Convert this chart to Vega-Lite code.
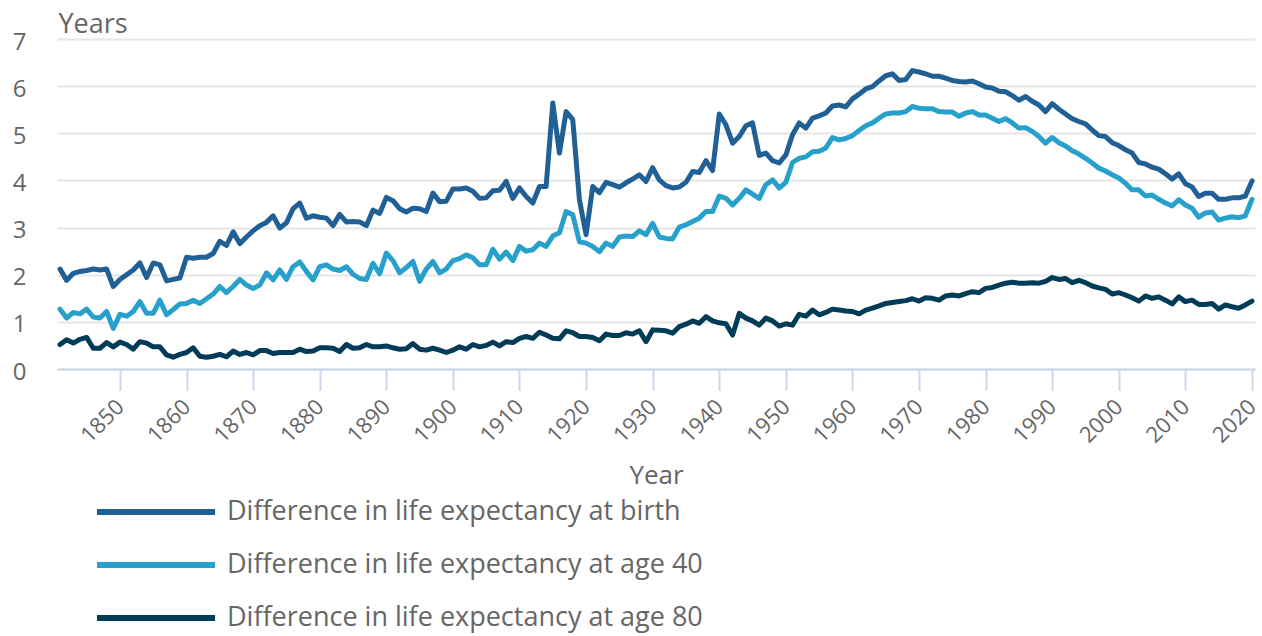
{
  "$schema": "https://vega.github.io/schema/vega-lite/v6.json",
  "width": 1198,
  "height": 330,
  "autosize": {"type": "none"},
  "padding": {"left": 57, "top": 39, "right": 7, "bottom": 267},
  "background": "white",
  "config": {"font": "Open Sans", "view": {"stroke": null}},
  "data": {"values": [
    {"year":1841,"b":2.12,"a40":1.27,"a80":0.52},
    {"year":1842,"b":1.88,"a40":1.08,"a80":0.62},
    {"year":1843,"b":2.03,"a40":1.2,"a80":0.55},
    {"year":1844,"b":2.07,"a40":1.17,"a80":0.63},
    {"year":1845,"b":2.09,"a40":1.27,"a80":0.67},
    {"year":1846,"b":2.12,"a40":1.1,"a80":0.44},
    {"year":1847,"b":2.1,"a40":1.08,"a80":0.44},
    {"year":1848,"b":2.12,"a40":1.22,"a80":0.56},
    {"year":1849,"b":1.75,"a40":0.86,"a80":0.47},
    {"year":1850,"b":1.9,"a40":1.16,"a80":0.57},
    {"year":1851,"b":2.0,"a40":1.12,"a80":0.52},
    {"year":1852,"b":2.1,"a40":1.22,"a80":0.42},
    {"year":1853,"b":2.25,"a40":1.43,"a80":0.58},
    {"year":1854,"b":1.94,"a40":1.18,"a80":0.55},
    {"year":1855,"b":2.25,"a40":1.18,"a80":0.47},
    {"year":1856,"b":2.21,"a40":1.46,"a80":0.47},
    {"year":1857,"b":1.87,"a40":1.15,"a80":0.3},
    {"year":1858,"b":1.9,"a40":1.26,"a80":0.25},
    {"year":1859,"b":1.93,"a40":1.38,"a80":0.31},
    {"year":1860,"b":2.37,"a40":1.39,"a80":0.35},
    {"year":1861,"b":2.35,"a40":1.46,"a80":0.45},
    {"year":1862,"b":2.37,"a40":1.39,"a80":0.27},
    {"year":1863,"b":2.37,"a40":1.49,"a80":0.25},
    {"year":1864,"b":2.45,"a40":1.59,"a80":0.27},
    {"year":1865,"b":2.71,"a40":1.75,"a80":0.31},
    {"year":1866,"b":2.62,"a40":1.62,"a80":0.26},
    {"year":1867,"b":2.91,"a40":1.75,"a80":0.38},
    {"year":1868,"b":2.66,"a40":1.9,"a80":0.31},
    {"year":1869,"b":2.8,"a40":1.78,"a80":0.35},
    {"year":1870,"b":2.93,"a40":1.71,"a80":0.3},
    {"year":1871,"b":3.04,"a40":1.78,"a80":0.39},
    {"year":1872,"b":3.11,"a40":2.04,"a80":0.39},
    {"year":1873,"b":3.25,"a40":1.89,"a80":0.33},
    {"year":1874,"b":2.99,"a40":2.1,"a80":0.35},
    {"year":1875,"b":3.1,"a40":1.9,"a80":0.35},
    {"year":1876,"b":3.4,"a40":2.17,"a80":0.35},
    {"year":1877,"b":3.52,"a40":2.27,"a80":0.42},
    {"year":1878,"b":3.2,"a40":2.07,"a80":0.37},
    {"year":1879,"b":3.25,"a40":1.89,"a80":0.38},
    {"year":1880,"b":3.22,"a40":2.17,"a80":0.45},
    {"year":1881,"b":3.2,"a40":2.21,"a80":0.45},
    {"year":1882,"b":3.04,"a40":2.12,"a80":0.44},
    {"year":1883,"b":3.28,"a40":2.09,"a80":0.37},
    {"year":1884,"b":3.12,"a40":2.17,"a80":0.52},
    {"year":1885,"b":3.13,"a40":2.01,"a80":0.44},
    {"year":1886,"b":3.12,"a40":1.92,"a80":0.45},
    {"year":1887,"b":3.04,"a40":1.9,"a80":0.52},
    {"year":1888,"b":3.37,"a40":2.24,"a80":0.47},
    {"year":1889,"b":3.3,"a40":2.02,"a80":0.47},
    {"year":1890,"b":3.64,"a40":2.46,"a80":0.49},
    {"year":1891,"b":3.57,"a40":2.3,"a80":0.45},
    {"year":1892,"b":3.4,"a40":2.04,"a80":0.42},
    {"year":1893,"b":3.33,"a40":2.15,"a80":0.43},
    {"year":1894,"b":3.41,"a40":2.28,"a80":0.54},
    {"year":1895,"b":3.4,"a40":1.86,"a80":0.42},
    {"year":1896,"b":3.34,"a40":2.12,"a80":0.4},
    {"year":1897,"b":3.73,"a40":2.28,"a80":0.44},
    {"year":1898,"b":3.55,"a40":2.04,"a80":0.4},
    {"year":1899,"b":3.56,"a40":2.12,"a80":0.35},
    {"year":1900,"b":3.82,"a40":2.3,"a80":0.4},
    {"year":1901,"b":3.82,"a40":2.34,"a80":0.47},
    {"year":1902,"b":3.84,"a40":2.42,"a80":0.42},
    {"year":1903,"b":3.77,"a40":2.36,"a80":0.52},
    {"year":1904,"b":3.62,"a40":2.21,"a80":0.47},
    {"year":1905,"b":3.63,"a40":2.21,"a80":0.5},
    {"year":1906,"b":3.78,"a40":2.54,"a80":0.57},
    {"year":1907,"b":3.79,"a40":2.33,"a80":0.49},
    {"year":1908,"b":3.98,"a40":2.48,"a80":0.58},
    {"year":1909,"b":3.62,"a40":2.3,"a80":0.56},
    {"year":1910,"b":3.84,"a40":2.6,"a80":0.65},
    {"year":1911,"b":3.66,"a40":2.5,"a80":0.69},
    {"year":1912,"b":3.52,"a40":2.53,"a80":0.65},
    {"year":1913,"b":3.87,"a40":2.67,"a80":0.78},
    {"year":1914,"b":3.87,"a40":2.6,"a80":0.72},
    {"year":1915,"b":5.64,"a40":2.82,"a80":0.65},
    {"year":1916,"b":4.58,"a40":2.89,"a80":0.64},
    {"year":1917,"b":5.46,"a40":3.34,"a80":0.81},
    {"year":1918,"b":5.29,"a40":3.27,"a80":0.77},
    {"year":1919,"b":3.59,"a40":2.7,"a80":0.69},
    {"year":1920,"b":2.85,"a40":2.67,"a80":0.69},
    {"year":1921,"b":3.87,"a40":2.6,"a80":0.67},
    {"year":1922,"b":3.74,"a40":2.49,"a80":0.6},
    {"year":1923,"b":3.96,"a40":2.67,"a80":0.74},
    {"year":1924,"b":3.91,"a40":2.6,"a80":0.71},
    {"year":1925,"b":3.86,"a40":2.8,"a80":0.71},
    {"year":1926,"b":3.95,"a40":2.82,"a80":0.77},
    {"year":1927,"b":4.03,"a40":2.81,"a80":0.74},
    {"year":1928,"b":4.12,"a40":2.93,"a80":0.81},
    {"year":1929,"b":3.98,"a40":2.85,"a80":0.58},
    {"year":1930,"b":4.27,"a40":3.09,"a80":0.83},
    {"year":1931,"b":4.01,"a40":2.8,"a80":0.82},
    {"year":1932,"b":3.89,"a40":2.77,"a80":0.81},
    {"year":1933,"b":3.84,"a40":2.76,"a80":0.76},
    {"year":1934,"b":3.86,"a40":3.01,"a80":0.9},
    {"year":1935,"b":3.96,"a40":3.06,"a80":0.95},
    {"year":1936,"b":4.19,"a40":3.13,"a80":1.02},
    {"year":1937,"b":4.17,"a40":3.2,"a80":0.97},
    {"year":1938,"b":4.42,"a40":3.34,"a80":1.11},
    {"year":1939,"b":4.21,"a40":3.34,"a80":1.02},
    {"year":1940,"b":5.41,"a40":3.67,"a80":0.98},
    {"year":1941,"b":5.18,"a40":3.62,"a80":0.96},
    {"year":1942,"b":4.79,"a40":3.48,"a80":0.72},
    {"year":1943,"b":4.93,"a40":3.62,"a80":1.18},
    {"year":1944,"b":5.16,"a40":3.8,"a80":1.08},
    {"year":1945,"b":5.22,"a40":3.71,"a80":1.02},
    {"year":1946,"b":4.53,"a40":3.62,"a80":0.93},
    {"year":1947,"b":4.58,"a40":3.91,"a80":1.08},
    {"year":1948,"b":4.42,"a40":4.01,"a80":1.02},
    {"year":1949,"b":4.37,"a40":3.84,"a80":0.91},
    {"year":1950,"b":4.54,"a40":3.96,"a80":0.96},
    {"year":1951,"b":4.97,"a40":4.38,"a80":0.93},
    {"year":1952,"b":5.22,"a40":4.47,"a80":1.16},
    {"year":1953,"b":5.11,"a40":4.5,"a80":1.12},
    {"year":1954,"b":5.32,"a40":4.61,"a80":1.25},
    {"year":1955,"b":5.37,"a40":4.62,"a80":1.15},
    {"year":1956,"b":5.43,"a40":4.69,"a80":1.2},
    {"year":1957,"b":5.58,"a40":4.91,"a80":1.27},
    {"year":1958,"b":5.6,"a40":4.86,"a80":1.25},
    {"year":1959,"b":5.56,"a40":4.89,"a80":1.23},
    {"year":1960,"b":5.73,"a40":4.95,"a80":1.22},
    {"year":1961,"b":5.83,"a40":5.06,"a80":1.17},
    {"year":1962,"b":5.94,"a40":5.16,"a80":1.25},
    {"year":1963,"b":5.99,"a40":5.22,"a80":1.29},
    {"year":1964,"b":6.11,"a40":5.32,"a80":1.34},
    {"year":1965,"b":6.22,"a40":5.41,"a80":1.39},
    {"year":1966,"b":6.26,"a40":5.43,"a80":1.41},
    {"year":1967,"b":6.12,"a40":5.43,"a80":1.43},
    {"year":1968,"b":6.14,"a40":5.46,"a80":1.45},
    {"year":1969,"b":6.33,"a40":5.57,"a80":1.49},
    {"year":1970,"b":6.3,"a40":5.53,"a80":1.44},
    {"year":1971,"b":6.26,"a40":5.52,"a80":1.51},
    {"year":1972,"b":6.21,"a40":5.52,"a80":1.5},
    {"year":1973,"b":6.21,"a40":5.46,"a80":1.46},
    {"year":1974,"b":6.17,"a40":5.45,"a80":1.55},
    {"year":1975,"b":6.12,"a40":5.45,"a80":1.57},
    {"year":1976,"b":6.1,"a40":5.36,"a80":1.55},
    {"year":1977,"b":6.09,"a40":5.43,"a80":1.6},
    {"year":1978,"b":6.11,"a40":5.46,"a80":1.64},
    {"year":1979,"b":6.05,"a40":5.39,"a80":1.62},
    {"year":1980,"b":5.98,"a40":5.39,"a80":1.71},
    {"year":1981,"b":5.96,"a40":5.32,"a80":1.73},
    {"year":1982,"b":5.89,"a40":5.25,"a80":1.78},
    {"year":1983,"b":5.88,"a40":5.31,"a80":1.82},
    {"year":1984,"b":5.8,"a40":5.22,"a80":1.84},
    {"year":1985,"b":5.7,"a40":5.11,"a80":1.82},
    {"year":1986,"b":5.78,"a40":5.12,"a80":1.82},
    {"year":1987,"b":5.68,"a40":5.04,"a80":1.83},
    {"year":1988,"b":5.6,"a40":4.93,"a80":1.82},
    {"year":1989,"b":5.46,"a40":4.79,"a80":1.86},
    {"year":1990,"b":5.63,"a40":4.91,"a80":1.94},
    {"year":1991,"b":5.51,"a40":4.8,"a80":1.9},
    {"year":1992,"b":5.41,"a40":4.73,"a80":1.92},
    {"year":1993,"b":5.31,"a40":4.63,"a80":1.83},
    {"year":1994,"b":5.25,"a40":4.56,"a80":1.88},
    {"year":1995,"b":5.2,"a40":4.47,"a80":1.83},
    {"year":1996,"b":5.07,"a40":4.37,"a80":1.76},
    {"year":1997,"b":4.95,"a40":4.26,"a80":1.72},
    {"year":1998,"b":4.93,"a40":4.2,"a80":1.69},
    {"year":1999,"b":4.8,"a40":4.12,"a80":1.59},
    {"year":2000,"b":4.74,"a40":4.05,"a80":1.62},
    {"year":2001,"b":4.65,"a40":3.94,"a80":1.57},
    {"year":2002,"b":4.58,"a40":3.8,"a80":1.51},
    {"year":2003,"b":4.38,"a40":3.8,"a80":1.44},
    {"year":2004,"b":4.35,"a40":3.67,"a80":1.55},
    {"year":2005,"b":4.28,"a40":3.69,"a80":1.5},
    {"year":2006,"b":4.24,"a40":3.6,"a80":1.53},
    {"year":2007,"b":4.14,"a40":3.52,"a80":1.46},
    {"year":2008,"b":4.03,"a40":3.46,"a80":1.38},
    {"year":2009,"b":4.14,"a40":3.59,"a80":1.53},
    {"year":2010,"b":3.93,"a40":3.48,"a80":1.43},
    {"year":2011,"b":3.86,"a40":3.41,"a80":1.46},
    {"year":2012,"b":3.66,"a40":3.22,"a80":1.37},
    {"year":2013,"b":3.73,"a40":3.31,"a80":1.37},
    {"year":2014,"b":3.73,"a40":3.33,"a80":1.39},
    {"year":2015,"b":3.6,"a40":3.16,"a80":1.27},
    {"year":2016,"b":3.6,"a40":3.2,"a80":1.36},
    {"year":2017,"b":3.63,"a40":3.23,"a80":1.32},
    {"year":2018,"b":3.63,"a40":3.21,"a80":1.29},
    {"year":2019,"b":3.67,"a40":3.25,"a80":1.36},
    {"year":2020,"b":3.99,"a40":3.6,"a80":1.44}
  ]},
  "transform": [{"fold": ["b", "a40", "a80"], "as": ["series", "value"]}],
  "mark": {"type": "line", "strokeWidth": 5, "strokeJoin": "round", "strokeCap": "round"},
  "encoding": {
    "x": {
      "field": "year", "type": "quantitative",
      "scale": {"domain": [1840.55, 2020.45], "nice": false, "zero": false},
      "axis": {
        "values": [1850,1860,1870,1880,1890,1900,1910,1920,1930,1940,1950,1960,1970,1980,1990,2000,2010,2020],
        "format": "d",
        "grid": false,
        "domainColor": "#ccd6eb", "domainWidth": 2,
        "tickColor": "#ccd6eb", "tickWidth": 2, "tickSize": 21,
        "labelAngle": -45, "labelAlign": "right", "labelBaseline": "middle",
        "labelFontSize": 22, "labelColor": "#666666", "labelPadding": 13,
        "title": "Year", "titleFontSize": 26, "titleFontWeight": "normal", "titleColor": "#666666",
        "titleX": 599, "titleY": 114, "titleAlign": "center", "titleBaseline": "alphabetic"
      }
    },
    "y": {
      "field": "value", "type": "quantitative",
      "scale": {"domain": [0, 7], "nice": false},
      "axis": {
        "values": [0,1,2,3,4,5,6,7],
        "domain": false, "ticks": false,
        "gridColor": "#e6e6e6", "gridWidth": 2,
        "labelFontSize": 24, "labelColor": "#666666", "labelPadding": 31,
        "labelBaseline": "middle", "labelOffset": 3,
        "title": "Years", "titleAngle": 0, "titleX": 1, "titleY": -7,
        "titleAlign": "left", "titleBaseline": "alphabetic",
        "titleFontSize": 27, "titleFontWeight": "normal", "titleColor": "#666666"
      }
    },
    "color": {
      "field": "series", "type": "nominal",
      "scale": {"domain": ["b", "a40", "a80"], "range": ["#206095", "#27a0cc", "#003c57"]},
      "legend": {
        "orient": "none", "legendX": 37, "legendY": 458, "direction": "vertical",
        "title": null, "padding": 0,
        "labelExpr": "datum.value == 'b' ? 'Difference in life expectancy at birth' : datum.value == 'a40' ? 'Difference in life expectancy at age 40' : 'Difference in life expectancy at age 80'",
        "symbolType": "stroke", "symbolSize": 13924, "symbolStrokeWidth": 6,
        "labelFontSize": 27, "labelColor": "#666666", "labelOffset": 9,
        "clipHeight": 30, "rowPadding": 23, "labelLimit": 800
      }
    }
  }
}
